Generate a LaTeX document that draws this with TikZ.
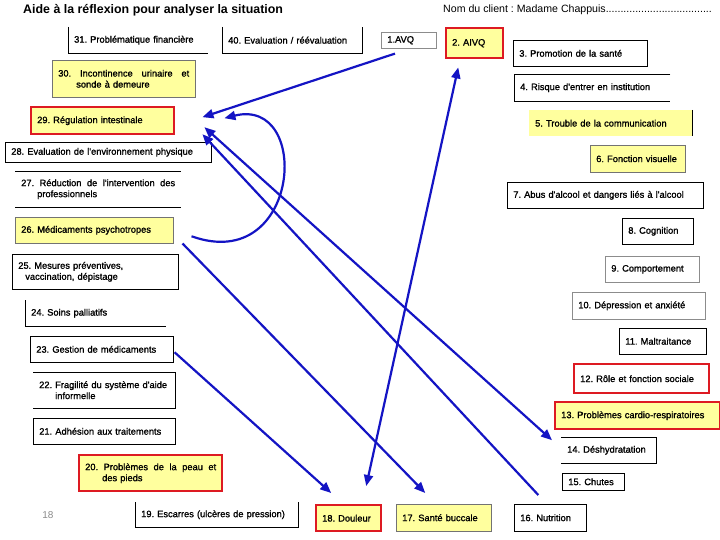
\documentclass[tikz,border=0pt]{standalone}
\usepackage{fontspec}
\setmainfont{Liberation Sans}
\newfontfamily\boxfont{Liberation Sans}[FakeBold=1.3]
\frenchspacing
\usepackage{tikz}
\usetikzlibrary{arrows.meta, positioning}
\definecolor{linkblue}{HTML}{1414C4}
\definecolor{boxred}{HTML}{DD1A22}
\definecolor{boxyellow}{HTML}{FFFF9E}
\definecolor{pagegray}{HTML}{8C8C8C}

\begin{document}
\begin{tikzpicture}[
    x=1pt, y=-1pt,
    every node/.style={font=\boxfont\fontsize{9.3}{11}\selectfont},
    item/.style={anchor=north west, inner xsep=6pt, inner ysep=0pt, align=left},
    plain/.style={item, draw=black, line width=0.6pt},
    soft/.style={item, draw=black!45, line width=0.6pt},
    note/.style={item, fill=boxyellow, draw=black!55, line width=0.5pt},
    key/.style={item, fill=boxyellow, draw=boxred, line width=2.4pt},
    keywhite/.style={item, draw=boxred, line width=2.4pt},
    edge/.style={draw=black, line width=0.6pt},
    link/.style={-{Triangle[length=11pt,width=9pt]}, draw=linkblue, line width=2.2pt},
    twoway/.style={{Triangle[length=11pt,width=9pt]}-{Triangle[length=11pt,width=9pt]}, draw=linkblue, line width=2.2pt}
]
    \fill[white] (0,0) rectangle (720,540);
    \useasboundingbox (0,0) rectangle (720,540);

    % Header
    \node[anchor=base west, inner sep=0pt, font=\fontsize{12.4}{14}\selectfont\bfseries] (title) at (23,14) {Aide à la réflexion pour analyser la situation};
    \node[anchor=base west, inner sep=0pt, font=\fontsize{10.6}{12}\selectfont] (client) at (443,13) {Nom du client : Madame Chappuis....................................};

    % Top row
    \node[item, text width=128pt, minimum height=26pt] (n31) at (68,27) {31. Problématique financière};
    \node[item, text width=128pt, minimum height=26pt] (n40) at (222,27) {40. Evaluation / réévaluation};
    \node[soft, text width=43pt, minimum height=16pt] (n1) at (381,32) {1.AVQ};
    \node[key, text width=45pt, minimum height=30pt] (n2) at (445,27) {2. AIVQ\\[4pt]};

    % Right column
    \node[plain, text width=122pt, minimum height=26pt] (n3) at (513,40) {3. Promotion de la santé};
    \node[item, text width=144pt, minimum height=27pt] (n4) at (514,74) {4. Risque d'entrer en institution};
    \node[item, fill=boxyellow, text width=151pt, minimum height=26pt] (n5) at (529,110) {5. Trouble de la communication};
    \node[note, text width=83pt, minimum height=27pt] (n6) at (590,145) {6. Fonction visuelle};
    \node[plain, text width=184pt, minimum height=26pt] (n7) at (507,182) {7. Abus d'alcool et dangers liés à l'alcool};
    \node[plain, text width=59pt, minimum height=26pt] (n8) at (622,218) {8. Cognition};
    \node[soft, text width=82pt, minimum height=26pt] (n9) at (605,256) {9. Comportement};
    \node[soft, text width=121pt, minimum height=27pt] (n10) at (572,292) {10. Dépression et anxiété};
    \node[plain, text width=75pt, minimum height=26pt] (n11) at (619,328) {11. Maltraitance};
    \node[keywhite, text width=123pt, minimum height=29pt] (n12) at (573,363) {12. Rôle et fonction sociale};
    \node[key, text width=153pt, minimum height=27pt] (n13) at (554,401) {13. Problèmes cardio-respiratoires};
    \node[item, text width=83pt, minimum height=26pt] (n14) at (561,437) {14. Déshydratation};
    \node[plain, text width=50pt, minimum height=17pt] (n15) at (562,473) {15. Chutes};

    % Bottom row
    \node[plain, text width=60pt, minimum height=27pt] (n16) at (514,504) {16. Nutrition};
    \node[note, text width=83pt, minimum height=27pt] (n17) at (396,504) {17. Santé buccale};
    \node[key, text width=53pt, minimum height=26pt] (n18) at (315,504) {18. Douleur};
    \node[item, text width=151pt, minimum height=25pt] (n19) at (135,502) {19. Escarres (ulcères de pression)};
    \node[font=\fontsize{10}{12}\selectfont, text=pagegray] (page) at (48,515) {18};

    % Left column
    \node[key, text width=131pt, minimum height=36pt] (n20) at (78,454) {20.\hfill Problèmes\hfill de\hfill la\hfill peau\hfill et\\\hspace*{17pt}des pieds};
    \node[plain, text width=130pt, minimum height=26pt] (n21) at (33,418) {21. Adhésion aux traitements};
    \node[item, text width=130pt, minimum height=36pt] (n22) at (33,372) {22. Fragilité du système d'aide\\\hspace*{16pt}informelle};
    \node[plain, text width=131pt, minimum height=26pt] (n23) at (30,336) {23. Gestion de médicaments};
    \node[item, text width=129pt, minimum height=26pt] (n24) at (25,300) {24. Soins palliatifs};
    \node[plain, text width=154pt, minimum height=35pt] (n25) at (12,254) {25. Mesures préventives,\\\hspace*{7pt}vaccination, dépistage};
    \node[note, text width=146pt, minimum height=26pt] (n26) at (15,217) {26. Médicaments psychotropes};
    \node[item, text width=154pt, minimum height=36pt] (n27) at (15,171) {27.\hfill Réduction\hfill de\hfill l'intervention\hfill des\\\hspace*{16pt}professionnels};
    \node[plain, text width=194pt, minimum height=20pt] (n28) at (5,142) {28. Evaluation de l'environnement physique};
    \node[key, text width=131pt, minimum height=27pt] (n29) at (30,106) {29. Régulation intestinale};
    \node[note, text width=131pt, minimum height=37pt] (n30) at (52,60) {30.\hfill Incontinence\hfill urinaire\hfill et\\\hspace*{18pt}sonde à demeure};

    % Open borders
    \draw[edge] (n31.north west) |- (n31.south east);
    \draw[edge] (n40.north west) |- (n40.south east) -- (n40.north east);
    \draw[edge] (n4.north east) -- (n4.north west) |- (n4.south east);
    \draw[edge] (n5.north east) -- (n5.south east);
    \draw[edge] (n14.north west) -- (n14.north east) |- (n14.south west);
    \draw[edge] (n19.north west) |- (n19.south east) -- (n19.north east);
    \draw[edge] (n22.north west) -- (n22.north east) |- (n22.south west);
    \draw[edge] (n24.north west) |- (n24.south east);
    \draw[edge] (n27.north west) -- (n27.north east);
    \draw[edge] (n27.south west) -- (n27.south east);

    % Links
    \draw[link] ([xshift=14pt,yshift=-5pt]n1.south west) -- ([xshift=27pt,yshift=3.5pt]n29.east);
    \draw[link] ([xshift=18pt,yshift=-6pt]n26.east) .. controls +(109,39) and +(88,-22) .. ([xshift=49pt,yshift=2.5pt]n29.east);
    \draw[twoway] ([xshift=29pt,yshift=-6.5pt]n29.east) -- ([xshift=-9pt,yshift=10pt]n14.west);
    \draw[link] ([xshift=-12pt,yshift=9pt]n16.north) -- ([xshift=27pt,yshift=-13.5pt]n29.east);
    \draw[twoway] ([xshift=-16.5pt,yshift=-8pt]n2.south) -- ([xshift=17.5pt,yshift=18pt]n18.north);
    \draw[link] ([xshift=1pt,yshift=-3pt]n23.east) -- ([xshift=-17.5pt,yshift=11pt]n18.north);
    \draw[link] ([xshift=9pt]n26.south east) -- ([xshift=-18.5pt,yshift=11pt]n17.north);
\end{tikzpicture}
\end{document}
